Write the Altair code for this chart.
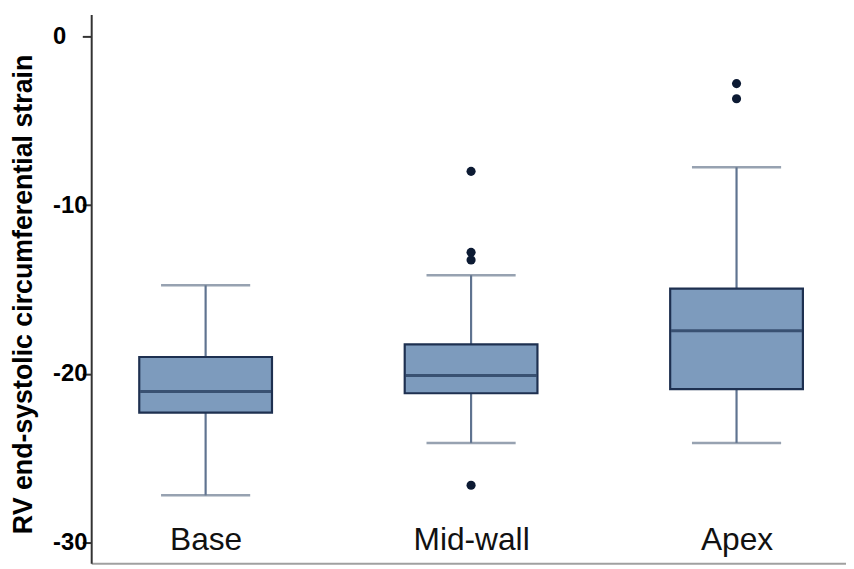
import altair as alt
import pandas as pd

# ---- data ----
categories = ["Base", "Mid-wall", "Apex"]
whisker_low = [-27.2, -24.1, -24.1]
q1 = [-22.3, -21.15, -20.9]
median = [-21.05, -20.1, -17.45]
q3 = [-19.0, -18.25, -14.95]
whisker_high = [-14.75, -14.15, -7.75]

outlier_cat = ["Mid-wall", "Mid-wall", "Mid-wall", "Mid-wall", "Apex", "Apex"]
outlier_val = [-8.0, -12.8, -13.25, -26.6, -2.8, -3.7]

y_ticks = [0, -10, -20, -30]
y_title = "RV end-systolic circumferential strain"

stats = pd.DataFrame({
    "cat": categories,
    "lo": whisker_low,
    "q1": q1,
    "med": median,
    "q3": q3,
    "hi": whisker_high,
})
outliers = pd.DataFrame({"cat": outlier_cat, "val": outlier_val})

FONT = "Liberation Sans"

x_enc = alt.X(
    "cat:N",
    sort=categories,
    scale=alt.Scale(type="point", domain=categories, range=[0, 767], padding=0.431),
    axis=alt.Axis(
        title=None,
        ticks=False,
        labelAngle=0,
        labelPadding=-14,
        labelBaseline="alphabetic",
        labelFont=FONT,
        labelFontSize=32,
        labelFontWeight="normal",
        labelColor="#111111",
        domainColor="#a0a0a0",
        domainWidth=2,
    ),
)

y_scale = alt.Scale(domain=[-31.23, 1.29], nice=False, zero=False)
y_axis = alt.Axis(
    title=y_title,
    values=y_ticks,
    labelExpr="'' + datum.value",
    labelAlign="left",
    labelBaseline="middle",
    labelPadding=30,
    labelFont=FONT,
    labelFontSize=24,
    labelFontWeight="bold",
    labelColor="#000000",
    tickSize=9,
    tickWidth=2,
    tickColor="#333333",
    domainColor="#333333",
    domainWidth=2,
    grid=False,
    titleFont=FONT,
    titleFontSize=27,
    titleFontWeight="bold",
    titleColor="#000000",
    titleAngle=270,
    titleAlign="center",
    titleBaseline="bottom",
    titleX=-54,
    titleY=282,
)

base = alt.Chart(stats)

whisker = base.mark_rule(color="#5f7390", strokeWidth=2.2).encode(
    x=x_enc,
    y=alt.Y("lo:Q", scale=y_scale, axis=y_axis),
    y2="hi:Q",
)

caps_lo = base.mark_tick(color="#6b7b90", thickness=2.5, size=90).encode(
    x=alt.X("cat:N", sort=categories), y=alt.Y("lo:Q")
)
caps_hi = base.mark_tick(color="#6b7b90", thickness=2.5, size=90).encode(
    x=alt.X("cat:N", sort=categories), y=alt.Y("hi:Q")
)

box = base.mark_bar(
    size=134, fill="#7d9bbd", stroke="#1e3050", strokeWidth=2.2
).encode(x=alt.X("cat:N", sort=categories), y=alt.Y("q1:Q"), y2="q3:Q")

med = base.mark_tick(color="#1d3252", thickness=3, size=132).encode(
    x=alt.X("cat:N", sort=categories), y=alt.Y("med:Q")
)

pts = alt.Chart(outliers).mark_circle(size=85, color="#0c1a33", opacity=1).encode(
    x=alt.X("cat:N", sort=categories), y=alt.Y("val:Q")
)

chart = (
    alt.layer(whisker, caps_lo, caps_hi, box, med, pts)
    .properties(
        width=762,
        height=554,
        autosize=alt.AutoSizeParams(type="none"),
        padding={"left": 84, "top": 4, "right": 0, "bottom": 0},
        background="white",
    )
    .configure_view(stroke=None)
)

chart.save("out.html", embed_options={"renderer": "svg", "actions": False})
